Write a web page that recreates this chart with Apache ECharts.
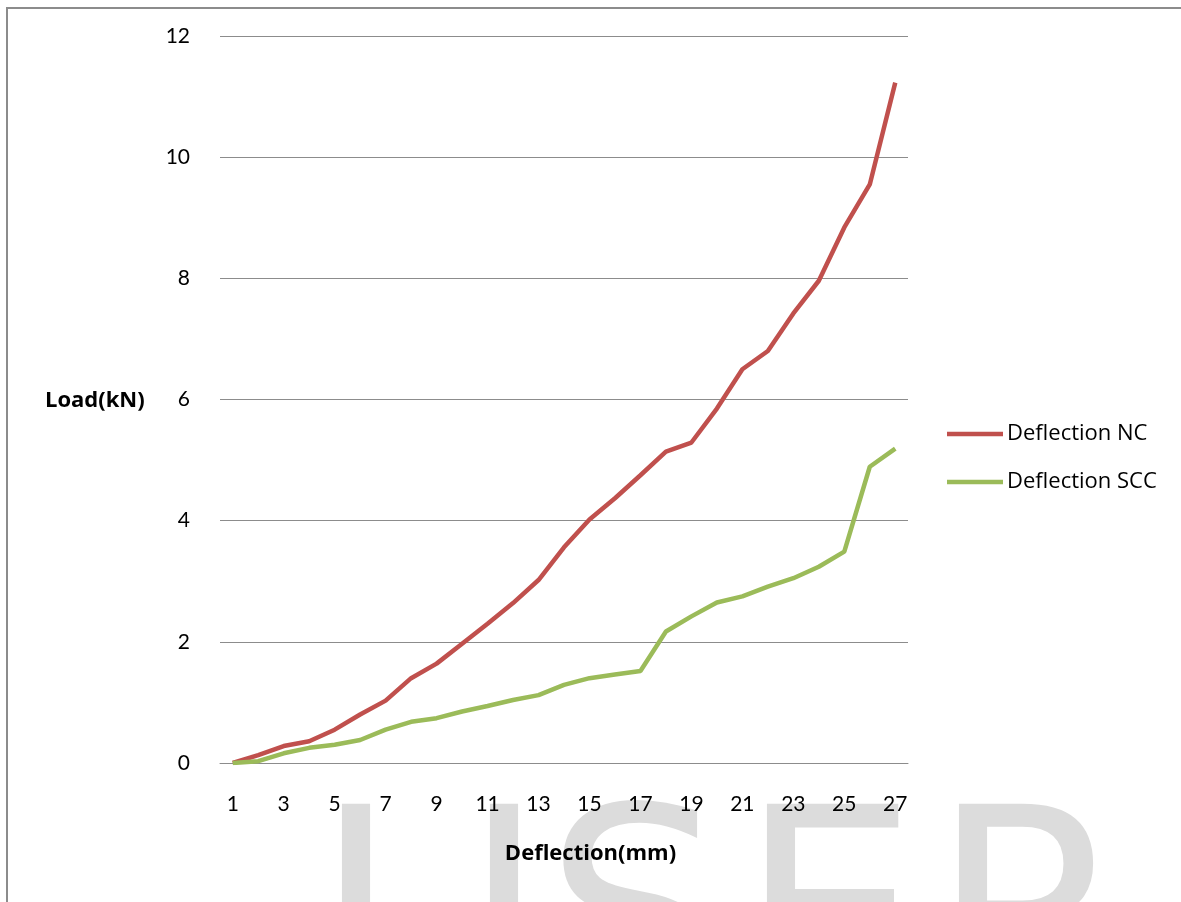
<!DOCTYPE html>
<html>
<head>
<meta charset="utf-8">
<script src="https://cdn.jsdelivr.net/npm/echarts@6/dist/echarts.min.js"></script>
<style>
html,body{margin:0;padding:0;background:#fff;}
#chart{width:1181px;height:902px;}
</style>
</head>
<body>
<div id="chart"></div>
<script>
// Data
const categories = ['1','2','3','4','5','6','7','8','9','10','11','12','13','14','15','16','17','18','19','20','21','22','23','24','25','26','27'];
const deflectionNC = [0, 0.13, 0.28, 0.36, 0.55, 0.80, 1.03, 1.40, 1.64, 1.97, 2.30, 2.64, 3.02, 3.56, 4.02, 4.37, 4.75, 5.14, 5.29, 5.85, 6.50, 6.80, 7.42, 7.96, 8.84, 9.55, 11.23];
const deflectionSCC = [0, 0.03, 0.16, 0.25, 0.30, 0.38, 0.55, 0.68, 0.74, 0.85, 0.94, 1.04, 1.12, 1.29, 1.40, 1.46, 1.52, 2.17, 2.42, 2.65, 2.75, 2.91, 3.05, 3.24, 3.49, 4.89, 5.19];
const seriesNames = ['Deflection NC', 'Deflection SCC'];
const xAxisTitle = 'Deflection(mm)';
const yAxisTitle = 'Load(kN)';
const watermarkLetters = ['I', 'J', 'S', 'E', 'R'];
const watermarkX = [356, 504, 635, 829, 1030];

const FONT = 'Lato, "Open Sans", sans-serif';
const FONT2 = '"Open Sans", Lato, sans-serif';
const chart = echarts.init(document.getElementById('chart'), null, {renderer: 'canvas'});

const graphics = [
  {
    type: 'rect', z: -20, silent: true,
    shape: {x: 7, y: 8, width: 1200, height: 920},
    style: {fill: 'none', stroke: '#8c8c8c', lineWidth: 2}
  },
  {
    type: 'text', left: 45, top: 390, z: 10,
    style: {text: yAxisTitle, font: 'bold 22px ' + FONT2, fill: '#000'}
  },
  {
    type: 'text', left: 'center', top: 843, z: 10,
    style: {text: xAxisTitle, font: 'bold 22px ' + FONT2, fill: '#000'}
  }
];
watermarkLetters.forEach((ch, i) => {
  graphics.push({
    type: 'text', z: -10, silent: true,
    x: watermarkX[i], y: 795,
    style: {
      text: ch, fill: '#dcdcdc',
      font: '285px "DejaVu Sans", sans-serif',
      align: 'center', verticalAlign: 'top'
    }
  });
});

chart.setOption({
  backgroundColor: '#ffffff',
  animation: false,
  textStyle: {fontFamily: FONT},
  grid: {left: 220, right: 273, top: 36, bottom: 139, containLabel: false},
  legend: {
    orient: 'vertical',
    left: 947, top: 423,
    padding: 0,
    itemWidth: 56, itemHeight: 14, itemGap: 26,
    icon: 'path://M0,5L56,5L56,9.5L0,9.5Z',
    textStyle: {fontSize: 22, color: '#000', fontFamily: FONT2, padding: [0, 0, 0, -1]},
    data: seriesNames
  },
  xAxis: {
    type: 'category',
    data: categories,
    boundaryGap: true,
    axisLine: {show: true, lineStyle: {color: '#8c8c8c', width: 1}},
    axisTick: {show: false},
    axisLabel: {interval: 1, fontSize: 21, color: '#000', margin: 31, fontFamily: FONT},
    splitLine: {show: false}
  },
  yAxis: {
    type: 'value',
    min: 0, max: 12, interval: 2,
    axisLine: {show: false},
    axisTick: {show: false},
    axisLabel: {fontSize: 21, color: '#000', margin: 30, fontFamily: FONT},
    splitLine: {show: true, lineStyle: {color: '#8c8c8c', width: 1}}
  },
  series: [
    {
      name: seriesNames[0], type: 'line', data: deflectionNC,
      symbol: 'none', lineStyle: {color: '#C0504D', width: 4.5}, itemStyle: {color: '#C0504D'}, z: 3
    },
    {
      name: seriesNames[1], type: 'line', data: deflectionSCC,
      symbol: 'none', lineStyle: {color: '#9BBB59', width: 4.5}, itemStyle: {color: '#9BBB59'}, z: 3
    }
  ],
  graphic: graphics
});
</script>
</body>
</html>
